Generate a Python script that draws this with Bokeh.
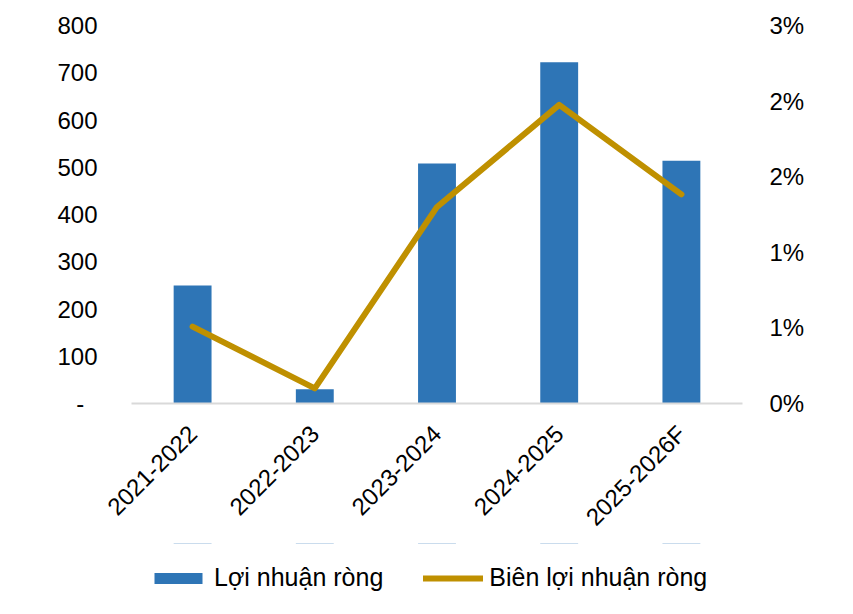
import math

from bokeh.plotting import figure
from bokeh.layouts import column
from bokeh.models import (ColumnDataSource, Range1d, LinearAxis, FixedTicker,
                          Legend, LegendItem)
from bokeh.embed import file_html
from bokeh.resources import INLINE

# data
years = ["2021-2022", "2022-2023", "2023-2024", "2024-2025", "2025-2026F"]
net_profit = [250, 30, 508, 722, 514]
net_margin = [0.0061, 0.0012, 0.0156, 0.0237, 0.0166]

left_ticks = [0, 100, 200, 300, 400, 500, 600, 700, 800]
left_labels = ["-\u00a0\u00a0", "100", "200", "300", "400", "500", "600", "700", "800"]
right_ticks = [0.0, 0.006, 0.012, 0.018, 0.024, 0.030]
right_labels = ["0%", "1%", "1%", "2%", "2%", "3%"]

FONT = "Liberation Sans"
BLUE = "#2E75B6"
GOLD = "#BF9000"

source = ColumnDataSource(data=dict(x=years, profit=net_profit, margin=net_margin))

p = figure(x_range=years, y_range=Range1d(0, 800),
           frame_width=611, frame_height=378,
           min_border_left=131, min_border_right=95,
           min_border_top=25, min_border_bottom=0,
           output_backend="svg", toolbar_location=None)
p.extra_y_ranges = {"pct": Range1d(0, 0.03)}

bars = p.vbar(x="x", top="profit", width=0.31, source=source,
              fill_color=BLUE, line_color=None)
line = p.line(x="x", y="margin", y_range_name="pct", source=source,
              line_color=GOLD, line_width=6, line_cap="round", line_join="round")

p.outline_line_color = None
p.xgrid.grid_line_color = None
p.ygrid.grid_line_color = None

# left axis
ya = p.yaxis[0]
ya.ticker = FixedTicker(ticks=left_ticks)
ya.major_label_overrides = {t: l for t, l in zip(left_ticks, left_labels)}
ya.axis_line_color = None
ya.major_tick_line_color = None
ya.minor_tick_line_color = None
ya.major_label_standoff = 28
ya.major_label_text_font = FONT
ya.major_label_text_font_size = "24px"
ya.major_label_text_color = "black"

# right axis
ra = LinearAxis(y_range_name="pct", ticker=FixedTicker(ticks=right_ticks))
ra.major_label_overrides = {t: l for t, l in zip(right_ticks, right_labels)}
ra.axis_line_color = None
ra.major_tick_line_color = None
ra.minor_tick_line_color = None
ra.major_label_standoff = 21
ra.major_label_text_font = FONT
ra.major_label_text_font_size = "24px"
ra.major_label_text_color = "black"
p.add_layout(ra, "right")

# category axis
xa = p.xaxis[0]
xa.axis_line_color = "#D9D9D9"
xa.axis_line_width = 2
xa.major_tick_line_color = None
xa.minor_tick_line_color = None
xa.major_label_orientation = math.pi / 4
xa.major_label_standoff = 20
xa.major_label_text_font = FONT
xa.major_label_text_font_size = "24px"
xa.major_label_text_color = "black"

# legend lives in its own strip under the chart; the series there sit
# far outside the strip's y range, so only their legend swatches show
lf = figure(width=837, height=70, x_range=p.x_range, y_range=Range1d(-200, -100),
            x_axis_location=None, y_axis_location=None, min_border=0,
            output_backend="svg", toolbar_location=None)
lf.outline_line_color = None
lf.xgrid.grid_line_color = None
lf.ygrid.grid_line_color = None
lg_bar = lf.vbar(x="x", top="profit", bottom=0, width=0.31, source=source,
                 fill_color=BLUE, line_color=None)
lg_line = lf.line(x="x", y="profit", source=source,
                  line_color=GOLD, line_width=6, line_cap="round")

legend = Legend(items=[LegendItem(label="Lợi nhuận ròng", renderers=[lg_bar]),
                       LegendItem(label="Biên lợi nhuận ròng", renderers=[lg_line])],
                orientation="horizontal", location=(17, 21))
legend.label_text_font = FONT
legend.label_text_font_size = "25px"
legend.label_text_color = "black"
legend.label_height = 25
legend.label_standoff = 6
legend.glyph_width = 60
legend.glyph_height = 14
legend.spacing = 40
legend.padding = 0
legend.margin = 0
legend.border_line_color = None
legend.background_fill_alpha = 0
lf.add_layout(legend, "center")

layout = column(p, lf, spacing=0)
open("out.html", "w").write(file_html(layout, INLINE))
